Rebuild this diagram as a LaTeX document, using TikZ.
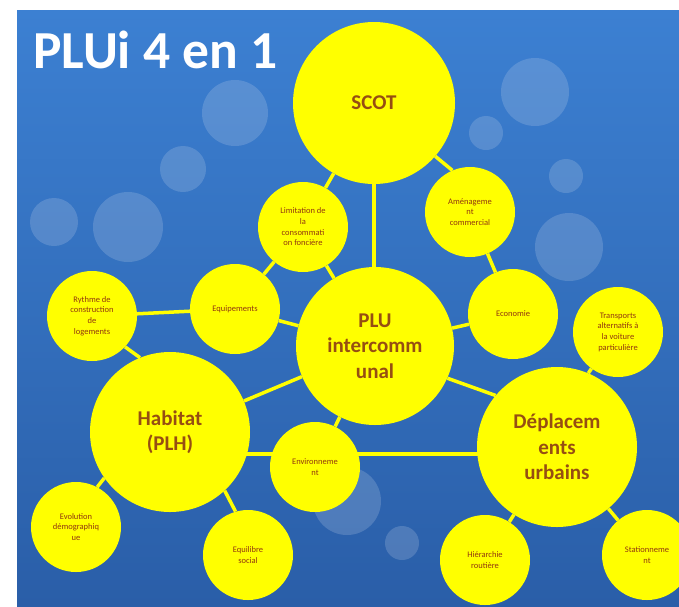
\documentclass[tikz,border=0pt]{standalone}
\usepackage{fontspec}
\setmainfont{Carlito}
\usetikzlibrary{backgrounds}
\pgfdeclarelayer{bg}
\pgfdeclarelayer{lines}
\pgfsetlayers{bg,lines,main}
\definecolor{bluetop}{RGB}{60,128,210}
\definecolor{bluebot}{RGB}{42,94,168}
\definecolor{txtbrown}{RGB}{150,78,18}
\definecolor{txtsmall}{RGB}{145,55,15}
\definecolor{yel}{RGB}{255,255,0}
\definecolor{bubcol}{RGB}{200,215,235}
\begin{document}
\begin{tikzpicture}[x=1pt,y=-1pt,
  bigc/.style={circle, fill=yel, inner sep=0pt, text=txtbrown, align=center,
    font=\fontsize{21}{25.5}\selectfont\bfseries},
  smallc/.style={circle, fill=yel, minimum size=90pt, inner sep=0pt, text=txtsmall, align=center,
    font=\fontsize{8.5}{10.7}\selectfont},
  link/.style={draw=yel, line width=3.5pt},
  bubble/.style={fill=bubcol, fill opacity=0.22}]
\useasboundingbox (0,0) rectangle (679,606);
\begin{pgfonlayer}{bg}
  \fill[white] (0,0) rectangle (679,606);
  \shade[top color=bluetop, bottom color=bluebot] (17,10) rectangle (679,606);
  \fill[bubble] (235,113) circle (33);
  \fill[bubble] (183,169) circle (23);
  \fill[bubble] (128,227) circle (35);
  \fill[bubble] (54,222) circle (24);
  \fill[bubble] (535,92) circle (34);
  \fill[bubble] (486,133) circle (17);
  \fill[bubble] (566,176) circle (17);
  \fill[bubble] (569,247) circle (34);
  \fill[bubble] (347,501) circle (34);
  \fill[bubble] (402,543) circle (17);
\end{pgfonlayer}

\node[text=white, font=\fontsize{53.5}{60}\selectfont\bfseries, anchor=base west, inner sep=0pt] (title) at (33,68) {PLUi 4 en 1};

\node[bigc, minimum size=162pt] (scot) at (374,103) {SCOT};
\node[bigc, minimum size=158pt] (plu) at (375,346) {PLU\\intercomm\\unal};
\node[bigc, minimum size=160pt] (hab) at (170,432) {Habitat\\(PLH)};
\node[bigc, minimum size=160pt] (dep) at (557,447) {Déplacem\\ents\\urbains};

\node[smallc] (lim) at (303,227) {Limitation de\\la\\consommati\\on foncière};
\node[smallc] (amen) at (470,212) {Aménageme\\nt\\commercial};
\node[smallc] (ryt) at (92,316) {Rythme de\\construction\\de\\logements};
\node[smallc] (equip) at (235,309) {Equipements};
\node[smallc] (eco) at (513,314) {Economie};
\node[smallc] (trans) at (618,332) {Transports\\alternatifs à\\la voiture\\particulière};
\node[smallc] (env) at (315,467) {Environneme\\nt};
\node[smallc] (evo) at (76,527) {Evolution\\démographiq\\ue};
\node[smallc] (equi) at (248,555) {Equilibre\\social};
\node[smallc] (hier) at (485,560) {Hiérarchie\\routière};
\node[smallc] (stat) at (647,555) {Stationneme\\nt};

\coordinate (hline) at (315,454);

\begin{pgfonlayer}{lines}
  \draw[link] (scot) -- (scot |- plu);
  \draw[link] (scot) -- (lim);
  \draw[link] (scot.-41) -- (amen.113);
  \draw[link] (lim) -- (plu);
  \draw[link] (amen) -- (eco);
  \draw[link] (eco) -- (plu);
  \draw[link] (equip) -- (lim);
  \draw[link] (equip) -- (ryt);
  \draw[link] (equip) -- (plu);
  \draw[link] (ryt.-43) -- (hab.112);
  \draw[link] (hab) -- (plu);
  \draw[link] (hline -| hab) -- (hline -| env);
  \draw[link] (hline -| env) -- (hline -| dep);
  \draw[link] (env) -- (plu);
  \draw[link] (plu.-24) -- (dep.140);
  \draw[link] (trans.234) -- (dep.67);
  \draw[link] (dep) -- (hier);
  \draw[link] (dep) -- (stat);
  \draw[link] (hab.215) -- (evo.62);
  \draw[link] (hab.-47) -- (equi.106);
\end{pgfonlayer}
\end{tikzpicture}
\end{document}
